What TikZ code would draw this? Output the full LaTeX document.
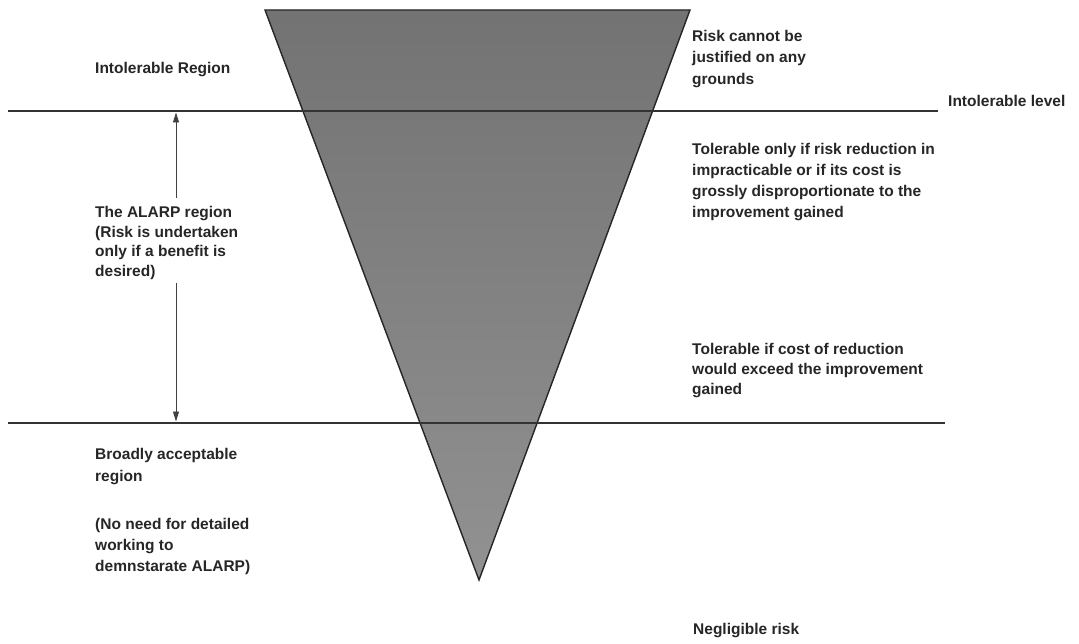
\documentclass[tikz,border=0pt]{standalone}
\usepackage{fontspec}
\setmainfont{Liberation Sans}
\usetikzlibrary{arrows.meta}
\begin{document}
\begin{tikzpicture}[x=1pt,y=-1pt,
  lbl/.style={anchor=north west,inner sep=0pt,align=left,font=\fontsize{15.5}{21}\selectfont\bfseries,text=black!85},
  level/.style={line width=2pt,draw=black!80},
  dimarrow/.style={line width=0.9pt,draw=black!75,-{Triangle[length=10pt,width=6pt]}}]
\useasboundingbox (0,0) rectangle (1079,644);
% triangle
\coordinate (tl) at (265,10);
\coordinate (tr) at (690,10);
\coordinate (ap) at (479,580);
\shade[top color=black!55,bottom color=black!43,draw=black!85,line width=1.4pt,line join=miter]
  (tl) -- (tr) -- (ap) -- cycle;
% level lines
\coordinate (u1) at (8,111);
\coordinate (u2) at (938,111);
\coordinate (l1) at (8,422.5);
\coordinate (l2) at (945,422.5);
\draw[level] (u1) -- (u2);
\draw[level] (l1) -- (l2);
% ALARP arrow
\coordinate (aTop) at (176,112.5);
\coordinate (aUp) at (176,198);
\coordinate (aDn) at (176,283);
\coordinate (aBot) at (176,421.5);
\draw[dimarrow] (aUp) -- (aTop);
\draw[dimarrow] (aDn) -- (aBot);
% labels
\node[lbl] (intreg) at (95,62.5) {Intolerable Region};
\node[lbl,font=\fontsize{15.5}{21.5}\selectfont\bfseries] (nojust) at (692,30) {Risk cannot be\\justified on any\\grounds};
\node[lbl] (intlev) at (948,95.5) {Intolerable level};
\node[lbl] (tolonly) at (692,143.5) {Tolerable only if risk reduction in\\impracticable or if its cost is\\grossly disproportionate to the\\improvement gained};
\node[lbl,font=\fontsize{15.5}{19.5}\selectfont\bfseries] (alarp) at (95,206.5) {The ALARP region\\(Risk is undertaken\\only if a benefit is\\desired)};
\node[lbl,font=\fontsize{15.5}{20}\selectfont\bfseries] (tolif) at (692,343.5) {Tolerable if cost of reduction\\would exceed the improvement\\gained};
\node[lbl,font=\fontsize{15.5}{22}\selectfont\bfseries] (broad) at (95,448.5) {Broadly acceptable\\region};
\node[lbl] (noneed) at (95,518.5) {(No need for detailed\\working to\\demnstarate ALARP)};
\node[lbl] (neglig) at (693,623.5) {Negligible risk};
\end{tikzpicture}
\end{document}
